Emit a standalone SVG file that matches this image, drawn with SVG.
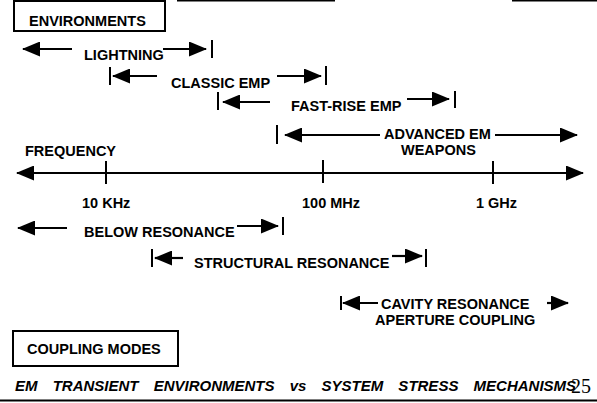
<svg xmlns="http://www.w3.org/2000/svg" width="597" height="403" viewBox="0 0 597 403">
<style>
.t{font-family:"Liberation Sans",Arial,sans-serif;font-weight:bold;font-size:14.5px;fill:#000}
.title{font-family:"Liberation Sans",Arial,sans-serif;font-weight:bold;font-style:italic;font-size:15px;word-spacing:11px;fill:#000}
.pg{font-family:"Liberation Serif","Times New Roman",serif;font-size:20px;fill:#000}
.a{stroke:#000;stroke-width:2.2;fill:none;marker-end:url(#ah)}
.k{stroke:#000;stroke-width:2;fill:none}
.box{fill:#fff;stroke:#000;stroke-width:2}
.rule{stroke:#000;stroke-width:1.5;fill:none}
</style>
<defs>
<marker id="ah" viewBox="0 0 18 15" markerWidth="18" markerHeight="15" refX="17" refY="7.5" orient="auto" markerUnits="userSpaceOnUse">
<path d="M0,0 L18,7.5 L0,15 z" fill="#000"/>
</marker>
</defs>
<rect width="597" height="403" fill="#fff"/>
<g id="page-rules">
<line class="rule" x1="177" y1="0.8" x2="335" y2="0.8"/>
<line class="rule" x1="512" y1="0.8" x2="597" y2="0.8"/>
<line x1="0" y1="400.5" x2="597" y2="400.5" stroke="#000" stroke-width="2"/>
</g>
<g id="environments">
<rect class="box" x="14" y="1" width="151" height="30"/>
<text class="t" x="29" y="26">ENVIRONMENTS</text>
</g>
<g id="lightning"><text class="t" x="84" y="60">LIGHTNING</text></g>
<g id="classic-emp"><text class="t" x="171" y="88">CLASSIC EMP</text></g>
<g id="fast-rise-emp"><text class="t" x="291" y="111">FAST-RISE EMP</text></g>
<g id="advanced-em">
<text class="t" x="384" y="139">ADVANCED EM</text>
<text class="t" x="401" y="155">WEAPONS</text>
</g>
<g id="frequency">
<text class="t" x="25" y="156">FREQUENCY</text>
<text class="t" x="82" y="208">10 KHz</text>
<text class="t" x="302" y="208">100 MHz</text>
<text class="t" x="476" y="208">1 GHz</text>
</g>
<g id="below-resonance"><text class="t" x="84" y="237">BELOW RESONANCE</text></g>
<g id="structural-resonance"><text class="t" x="194" y="268">STRUCTURAL RESONANCE</text></g>
<g id="cavity-resonance">
<text class="t" x="381" y="309">CAVITY RESONANCE</text>
<text class="t" x="375" y="325">APERTURE COUPLING</text>
</g>
<g id="coupling-modes">
<rect class="box" x="13" y="331" width="165" height="35"/>
<text class="t" x="27" y="354">COUPLING MODES</text>
</g>
<g id="caption">
<text class="title" x="15" y="391">EM TRANSIENT ENVIRONMENTS vs SYSTEM STRESS MECHANISMS</text>
<text class="pg" x="571" y="393">25</text>
</g>
<g id="connectors">
<line class="a" x1="72" y1="49" x2="23" y2="49"/>
<line class="a" x1="163" y1="49" x2="206" y2="49"/>
<line class="k" x1="212" y1="40" x2="212" y2="58"/>
<line class="k" x1="110" y1="67" x2="110" y2="85"/>
<line class="a" x1="157" y1="76" x2="113" y2="76"/>
<line class="a" x1="277" y1="76" x2="321" y2="76"/>
<line class="k" x1="326" y1="66" x2="326" y2="85"/>
<line class="k" x1="218" y1="92" x2="218" y2="110"/>
<line class="a" x1="270" y1="102" x2="223" y2="102"/>
<line class="a" x1="407" y1="99" x2="449" y2="99"/>
<line class="k" x1="455" y1="91" x2="455" y2="108"/>
<line class="k" x1="277" y1="125" x2="277" y2="144"/>
<line class="a" x1="380" y1="135" x2="285" y2="135"/>
<line class="a" x1="495" y1="135" x2="577" y2="135"/>
<line class="a" x1="300" y1="173" x2="17" y2="173"/>
<line class="a" x1="300" y1="173" x2="583" y2="173"/>
<line class="k" x1="106" y1="161" x2="106" y2="184"/>
<line class="k" x1="323" y1="160" x2="323" y2="183"/>
<line class="k" x1="493" y1="161" x2="493" y2="184"/>
<line class="a" x1="67" y1="228" x2="18" y2="228"/>
<line class="a" x1="237" y1="226" x2="278" y2="226"/>
<line class="k" x1="283" y1="217" x2="283" y2="235"/>
<line class="k" x1="152" y1="249" x2="152" y2="267"/>
<line class="a" x1="183" y1="258" x2="155" y2="258"/>
<line class="a" x1="392" y1="256" x2="422" y2="256"/>
<line class="k" x1="426" y1="249" x2="426" y2="267"/>
<line class="k" x1="341" y1="296" x2="341" y2="310"/>
<line class="a" x1="378" y1="303" x2="343" y2="303"/>
<line class="a" x1="547" y1="303" x2="568" y2="303"/>
</g>
</svg>
